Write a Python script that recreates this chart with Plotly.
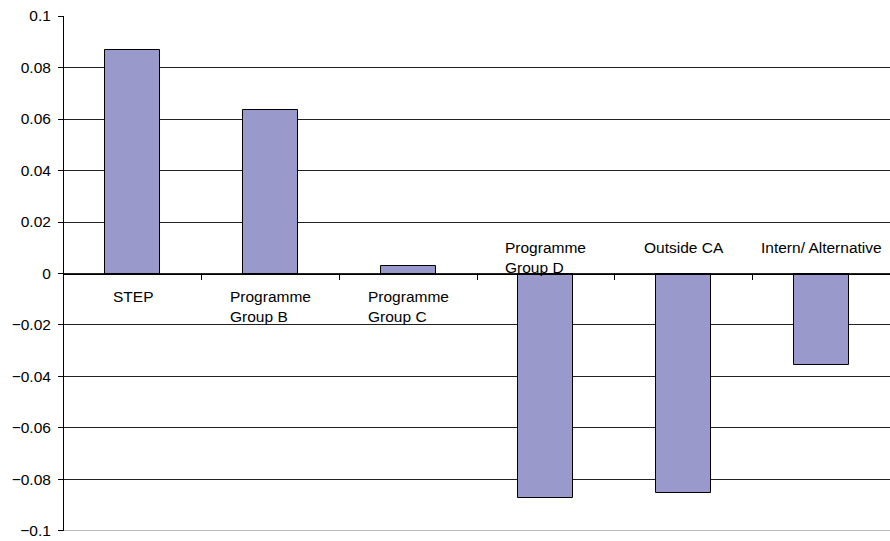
import plotly.graph_objects as go

categories = ["STEP", "Programme<br>Group B", "Programme<br>Group C",
              "Programme<br>Group D", "Outside CA", "Intern/ Alternative"]
values = [0.0869, 0.0637, 0.003, -0.0873, -0.0852, -0.0356]
ytick_vals = [0.1, 0.08, 0.06, 0.04, 0.02, 0, -0.02, -0.04, -0.06, -0.08, -0.1]
ytick_text = ["0.1", "0.08", "0.06", "0.04", "0.02", "0", "\u22120.02", "\u22120.04",
              "\u22120.06", "\u22120.08", "\u22120.1"]

xs = list(range(len(categories)))
font = "Liberation Sans, Arial, sans-serif"

fig = go.Figure()
fig.add_trace(go.Bar(
    x=xs, y=values, width=0.4,
    marker=dict(color="#9999CC", line=dict(color="#000000", width=1)),
    showlegend=False, hoverinfo="skip",
))

for i, (c, v) in enumerate(zip(categories, values)):
    fig.add_annotation(
        x=i, y=0, xref="x", yref="y", text=c, showarrow=False,
        xanchor="center", yanchor="top", align="left",
        yshift=-12 if v >= 0 else 37,
        font=dict(family=font, size=15.5, color="#000000"),
    )

fig.add_shape(type="line", xref="paper", yref="y", x0=0, x1=1, y0=-0.1, y1=-0.1,
              line=dict(color="#888888", width=1))

fig.update_layout(
    width=890, height=541,
    margin=dict(l=64, r=0, t=16, b=10, autoexpand=False),
    paper_bgcolor="white", plot_bgcolor="white",
    bargap=0,
    xaxis=dict(
        range=[-0.5, len(categories) - 0.5],
        anchor="free", position=0.5,
        showline=True, linecolor="#000000", linewidth=1,
        tickmode="array", tickvals=[i + 0.5 for i in range(len(categories) - 1)],
        ticks="outside", ticklen=5, tickcolor="#000000",
        showticklabels=False, showgrid=False, zeroline=False,
        automargin=False,
    ),
    yaxis=dict(
        range=[-0.10002, 0.10002],
        tickmode="array", tickvals=ytick_vals, ticktext=ytick_text,
        ticks="outside", ticklen=5, tickcolor="#000000",
        showline=True, linecolor="#000000", linewidth=1,
        showgrid=True, gridcolor="#222222", gridwidth=1,
        zeroline=False,
        tickfont=dict(family=font, size=15.5, color="#000000"),
        ticklabelstandoff=4,
        ticklabeloverflow="allow",
        automargin=False,
    ),
)

fig.write_html("out.html")
